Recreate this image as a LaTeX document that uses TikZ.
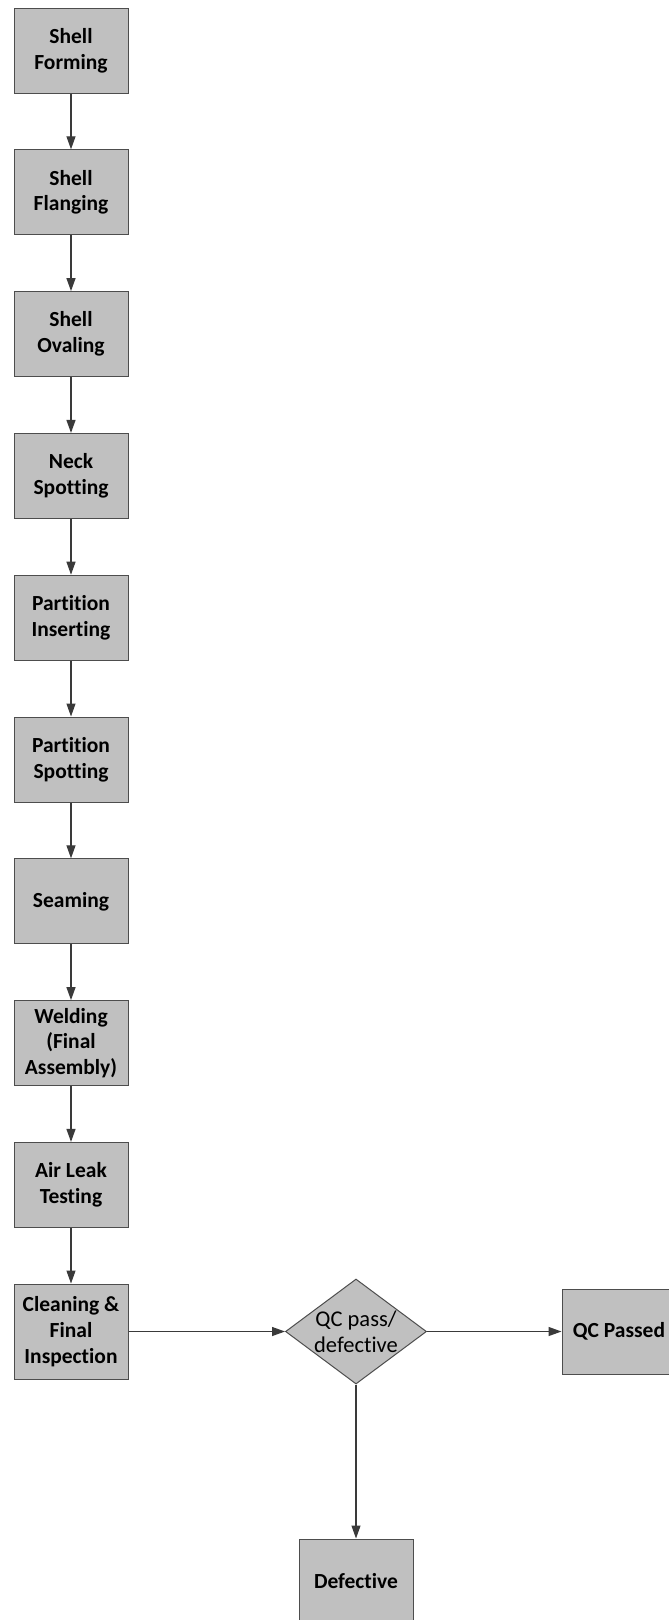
\documentclass[tikz,border=0pt]{standalone}
\usepackage{fontspec}
\setmainfont{Carlito}[Ligatures={NoCommon}]
\usetikzlibrary{shapes.geometric,arrows.meta}
\definecolor{boxfill}{HTML}{C0C0C0}
\definecolor{boxline}{HTML}{4D4D4D}
\definecolor{flowline}{HTML}{3A3A3A}
\tikzset{
  stepbox/.style={draw=boxline, line width=1pt, fill=boxfill, rectangle,
    minimum width=114pt, minimum height=85pt, inner sep=2pt,
    align=center, font=\fontsize{21.5}{25.8}\selectfont\bfseries, text=black},
  tallbox/.style={stepbox, minimum height=95pt},
  decision/.style={draw=boxline, line width=1pt, fill=boxfill, diamond,
    minimum width=141pt, minimum height=105pt, inner sep=0pt, aspect=1.343,
    align=center, font=\fontsize{22.5}{26}\selectfont, text=black},
  flow/.style={draw=flowline, line width=1.2pt,
    -{Triangle[length=13pt,width=9pt]}}
}
\begin{document}
\begin{tikzpicture}[x=1pt,y=-1pt]
  \useasboundingbox (0,0) rectangle (669,1620);
  \clip (0,0) rectangle (669,1620);
  \fill[white] (0,0) rectangle (669,1620);

  % main process column
  \node[stepbox] (forming)   at (71,50.5)   {Shell\\Forming};
  \node[stepbox] (flanging)  at (71,192.3)  {Shell\\Flanging};
  \node[stepbox] (ovaling)   at (71,334.1)  {Shell\\Ovaling};
  \node[stepbox] (neck)      at (71,475.9)  {Neck\\Spotting};
  \node[stepbox] (pinsert)   at (71,617.7)  {Partition\\Inserting};
  \node[stepbox] (pspot)     at (71,759.5)  {Partition\\Spotting};
  \node[stepbox] (seaming)   at (71,901.3)  {Seaming};
  \node[stepbox] (welding)   at (71,1043.1) {Welding\\(Final\\Assembly)};
  \node[stepbox] (airleak)   at (71,1184.9) {Air Leak\\Testing};
  \node[tallbox] (cleaning)  at (71,1331.5) {Cleaning \&\\Final\\Inspection};

  % quality check branch
  \node[decision] (qc)       at (356,1331.5) {QC pass/\\defective};
  \node[stepbox] (passed)    at (619,1331.5) {QC Passed};
  \node[stepbox] (defective) at (356,1581.5) {Defective};

  \draw[flow] (forming) -- (flanging);
  \draw[flow] (flanging) -- (ovaling);
  \draw[flow] (ovaling) -- (neck);
  \draw[flow] (neck) -- (pinsert);
  \draw[flow] (pinsert) -- (pspot);
  \draw[flow] (pspot) -- (seaming);
  \draw[flow] (seaming) -- (welding);
  \draw[flow] (welding) -- (airleak);
  \draw[flow] (airleak) -- (cleaning);
  \draw[flow] (cleaning) -- (qc);
  \draw[flow] (qc) -- (passed);
  \draw[flow] (qc) -- (defective);
\end{tikzpicture}
\end{document}
